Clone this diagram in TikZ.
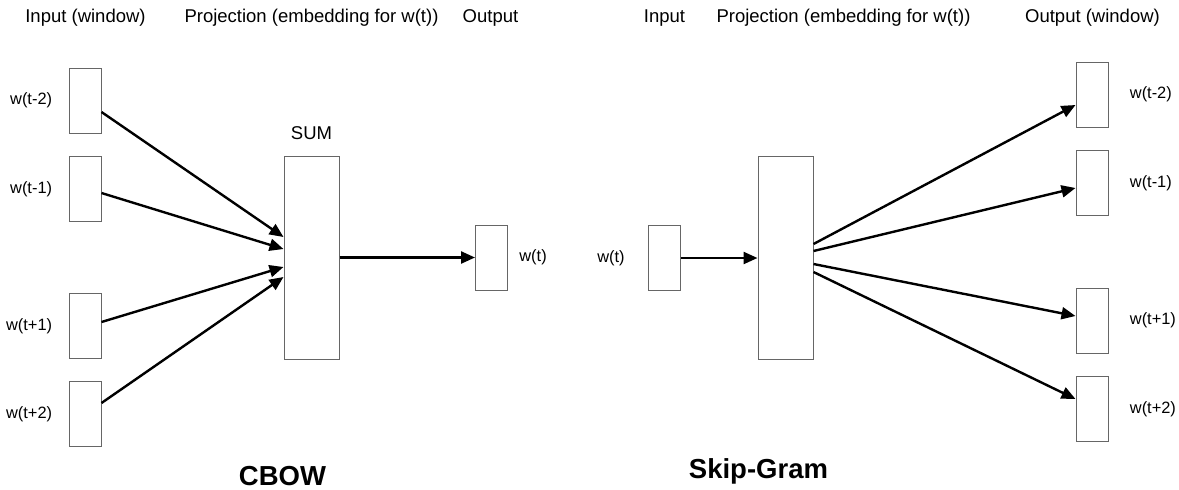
\documentclass[tikz,border=0pt]{standalone}
\usepackage{fontspec}
\setmainfont{Liberation Sans}
\usetikzlibrary{positioning,calc,arrows.meta}

\begin{document}
\begin{tikzpicture}[
    x=0.5pt, y=-0.5pt,
    % Styles
    header/.style={
        font=\fontsize{9.25}{11}\selectfont,
        inner sep=0pt
    },
    word/.style={
        font=\fontsize{8.2}{10}\selectfont,
        inner sep=0pt
    },
    model/.style={
        font=\fontsize{13.75}{16}\selectfont\bfseries,
        inner sep=0pt
    },
    vec/.style={
        draw=black!60,
        line width=0.5pt,
        fill=white,
        minimum width=16pt,
        minimum height=32.5pt,
        inner sep=0pt
    },
    proj/.style={
        vec,
        minimum width=27.5pt,
        minimum height=101.5pt
    },
    arrow/.style={-{Triangle[length=7pt,width=6pt]}, line width=1.2pt}
]

    % page frame
    \path[use as bounding box, fill=white] (0,0) rectangle (1179,489);

    % ---------------------------------------------------------
    % 1. CBOW: CONTEXT WINDOW -> SUM -> CENTRE WORD
    % ---------------------------------------------------------
    \node[vec] (cin1) at (85,100.5) {};
    \node[vec] (cin2) at (85,189) {};
    \node[vec] (cin3) at (85,326) {};
    \node[vec] (cin4) at (85,414) {};

    \node[proj] (csum) at (311.5,257.5) {};
    \node[vec] (cout) at (491.5,257.5) {};

    % word labels
    \node[word, left=8pt of cin1] (lcin1) {w(t-2)};
    \node[word, left=8pt of cin2] (lcin2) {w(t-1)};
    \node[word, left=8pt of cin3] (lcin3) {w(t+1)};
    \node[word, left=8pt of cin4] (lcin4) {w(t+2)};
    \node[header, above=7.5pt of csum] (lsum) {SUM};
    \node[word, right=5.5pt of cout] (lcout) {w(t)};

    % column headers
    \node[header] (hcin) at (85.5,18) {Input (window)};
    \node[header] (hcsum) at (311.5,18) {Projection (embedding for w(t))};
    \node[header] (hcout) at (490.5,18) {Output};

    \node[model] (cbow) at (282.5,476) {CBOW};

    % ---------------------------------------------------------
    % 2. SKIP-GRAM: CENTRE WORD -> PROJECTION -> CONTEXT WINDOW
    % ---------------------------------------------------------
    \node[vec] (sin) at (664.5,258) {};
    \node[proj] (sproj) at (785.5,258) {};

    \node[vec] (sout1) at (1092,94.5) {};
    \node[vec] (sout2) at (1092,183) {};
    \node[vec] (sout3) at (1092,320.5) {};
    \node[vec] (sout4) at (1092,409) {};

    % word labels
    \node[word, left=11.5pt of sin] (lsin) {w(t)};
    \node[word, right=10.5pt of sout1] (lsout1) {w(t-2)};
    \node[word, right=10.5pt of sout2] (lsout2) {w(t-1)};
    \node[word, right=10.5pt of sout3] (lsout3) {w(t+1)};
    \node[word, right=10.5pt of sout4] (lsout4) {w(t+2)};

    % column headers
    \node[header] (hsin) at (664.5,18) {Input};
    \node[header] (hsproj) at (843.5,18) {Projection (embedding for w(t))};
    \node[header] (hsout) at (1092.5,18) {Output (window)};

    \node[model] (skipgram) at (758.5,471) {Skip-Gram};

    % ---------------------------------------------------------
    % CONNECTIONS
    % ---------------------------------------------------------
    % CBOW fan-in
    \draw[arrow] ($(cin1.east)+(0,11.5)$) -- ($(csum.west)+(0,-20.5)$);
    \draw[arrow] ($(cin2.east)+(0,4)$) -- ($(csum.west)+(0,-8.5)$);
    \draw[arrow] ($(cin3.east)+(0,-4)$) -- ($(csum.west)+(0,9.5)$);
    \draw[arrow] ($(cin4.east)+(0,-11)$) -- ($(csum.west)+(0,19.5)$);
    \draw[arrow] (csum.east) -- (cout.west);

    % Skip-gram fan-out
    \draw[arrow] (sin.east) -- (sproj.west);
    \draw[arrow] ($(sproj.east)+(0,-14)$) -- ($(sout1.west)+(0,10.5)$);
    \draw[arrow] ($(sproj.east)+(0,-7)$) -- ($(sout2.west)+(0,5)$);
    \draw[arrow] ($(sproj.east)+(0,6)$) -- ($(sout3.west)+(0,-4.5)$);
    \draw[arrow] ($(sproj.east)+(0,14)$) -- ($(sout4.west)+(0,-10)$);

\end{tikzpicture}
\end{document}
